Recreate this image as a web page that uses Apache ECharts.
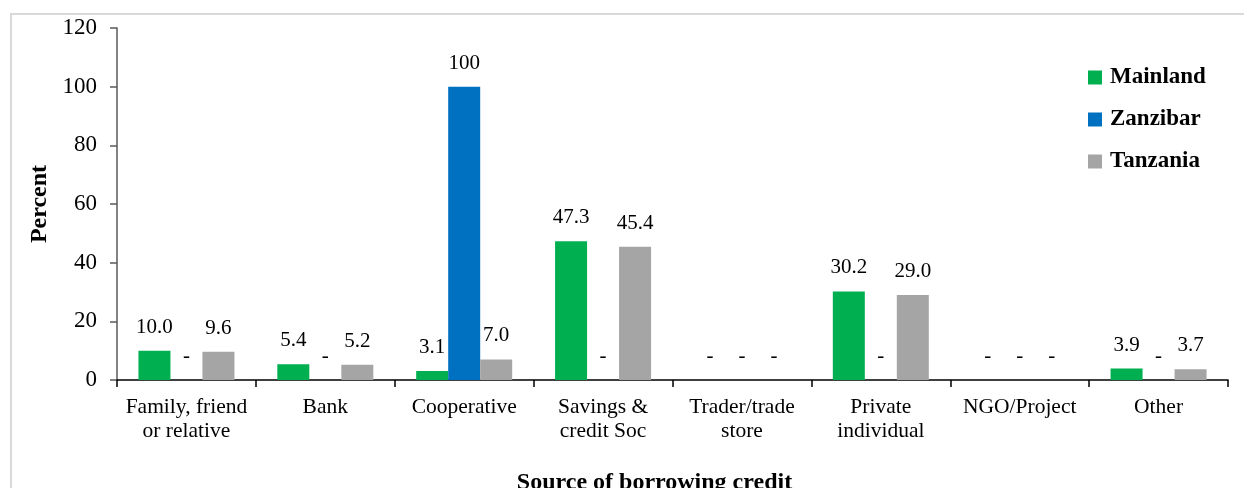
<!DOCTYPE html>
<html>
<head>
<meta charset="utf-8">
<script src="https://cdn.jsdelivr.net/npm/echarts@6/dist/echarts.min.js"></script>
<style>
html,body{margin:0;padding:0;background:#fff;}
#chart{width:1244px;height:488px;}
</style>
</head>
<body>
<div id="chart"></div>
<script>
const categories = ['Family, friend\nor relative', 'Bank', 'Cooperative', 'Savings &\ncredit Soc', 'Trader/trade\nstore', 'Private\nindividual', 'NGO/Project', 'Other'];
const mainland = [10.0, 5.4, 3.1, 47.3, 0, 30.2, 0, 3.9];
const zanzibar = [0, 0, 100, 0, 0, 0, 0, 0];
const tanzania = [9.6, 5.2, 7.0, 45.4, 0, 29.0, 0, 3.7];
const yTicks = [0, 20, 40, 60, 80, 100, 120];

const FONT = '"Liberation Serif", "Times New Roman", serif';
const chart = echarts.init(document.getElementById('chart'));

function mkLabel(decimals) {
  return {
    show: true,
    position: 'top',
    distance: 13,
    fontFamily: FONT,
    fontSize: 21,
    color: '#000',
    formatter: p => p.value === 0 ? '-' : p.value.toFixed(decimals)
  };
}

chart.setOption({
  animation: false,
  graphic: [{
    type: 'rect',
    shape: { x: 11, y: 14, width: 1300, height: 600 },
    style: { fill: 'none', stroke: '#d9d9d9', lineWidth: 2 },
    silent: true
  }],
  grid: { left: 117, right: 16, top: 28, bottom: 108, containLabel: false, outerBoundsMode: 'none' },
  legend: {
    orient: 'vertical',
    left: 1083,
    top: 61,
    itemWidth: 14,
    itemHeight: 14,
    itemGap: 19,
    icon: 'rect',
    textStyle: { fontFamily: FONT, fontSize: 23, fontWeight: 'bold', color: '#000', padding: [0, 0, 0, 3] },
    data: ['Mainland', 'Zanzibar', 'Tanzania']
  },
  xAxis: {
    type: 'category',
    data: categories,
    name: 'Source of borrowing credit',
    nameLocation: 'middle',
    nameGap: 91,
    nameTextStyle: { fontFamily: FONT, fontSize: 24, fontWeight: 'bold', color: '#000', padding: [0, 36, 0, 0] },
    axisLine: { lineStyle: { color: '#000', width: 1.5 } },
    axisTick: { show: true, length: 7, lineStyle: { color: '#000', width: 1.5 } },
    axisLabel: { fontFamily: FONT, fontSize: 21.5, color: '#000', margin: 15, lineHeight: 24, interval: 0 }
  },
  yAxis: {
    type: 'value',
    min: 0, max: 120, interval: 20,
    name: 'Percent',
    nameLocation: 'middle',
    nameGap: 60,
    nameRotate: 90,
    nameTextStyle: { fontFamily: FONT, fontSize: 24, fontWeight: 'bold', color: '#000' },
    splitLine: { show: false },
    axisLine: { show: true, lineStyle: { color: '#595959', width: 1.5 } },
    axisTick: { show: true, length: 7, lineStyle: { color: '#595959', width: 1.5 } },
    axisLabel: { fontFamily: FONT, fontSize: 23, color: '#000', margin: 20,
      formatter: v => yTicks.includes(v) ? String(v) : '' }
  },
  series: [
    { name: 'Mainland', type: 'bar', data: mainland, barWidth: 32, barGap: '0%',
      itemStyle: { color: '#00b050' }, label: mkLabel(1) },
    { name: 'Zanzibar', type: 'bar', data: zanzibar, barWidth: 32, barGap: '0%',
      itemStyle: { color: '#0070c0' }, label: mkLabel(0) },
    { name: 'Tanzania', type: 'bar', data: tanzania, barWidth: 32, barGap: '0%',
      itemStyle: { color: '#a5a5a5' }, label: mkLabel(1) }
  ]
});
</script>
</body>
</html>
